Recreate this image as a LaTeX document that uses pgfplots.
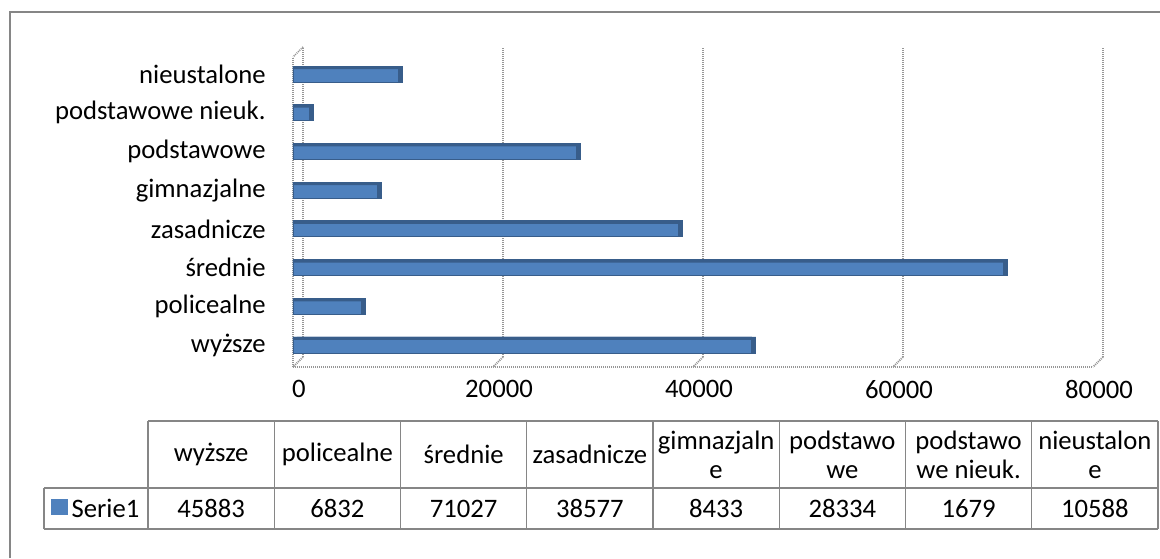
\documentclass[border=0pt]{standalone}
\usepackage{fontspec}
\setmainfont{Carlito}
\usepackage{pgfplots}
\pgfplotsset{compat=1.18}
\usepackage{pgfplotstable}
\definecolor{barblue}{RGB}{79,129,189}
\definecolor{bardark}{RGB}{56,93,138}
\definecolor{gridgray}{RGB}{150,150,150}
\definecolor{framegray}{RGB}{134,134,134}

\pgfplotstableread{
pos value
1 45883
2 6832
3 71027
4 38577
5 8433
6 28334
7 1679
8 10588
}\data

\newcommand{\lblfont}{\fontsize{20}{22}\selectfont}

\begin{document}
\begin{tikzpicture}[font=\lblfont]
\useasboundingbox (0,0) rectangle (870pt,418.5pt);
\draw[framegray, line width=1.1pt] (7.5pt,0pt) -- (7.5pt,409.5pt) -- (870pt,409.5pt);

% back wall with grid
\begin{axis}[
  at={(227.25pt,150.75pt)}, anchor=south west,
  scale only axis, width=600pt, height=232.5pt,
  xmin=0, xmax=80000, ymin=0, ymax=1,
  clip=false,
  axis line style={draw=none},
  major tick length=0pt,
  xtick={0,20000,40000,60000,80000},
  ytick=\empty,
  xmajorgrids,
  major grid style={gridgray, line width=1.5pt, dash pattern=on 0.75pt off 0.75pt},
  scaled x ticks=false,
  /pgf/number format/.cd, 1000 sep={}, assume math mode=true,
  /pgfplots/.cd,
  xticklabel style={font=\lblfont, xshift=-3pt, yshift=-14pt},
]
\pgfplotsinvokeforeach{0,20000,40000,60000,80000}{
  \draw[gridgray, line width=1.5pt, dash pattern=on 0.75pt off 0.75pt] (axis cs:#1,0) -- ++(-7.5pt,-7.5pt);
}
\draw[gridgray, line width=1.2pt, dash pattern=on 0.75pt off 0.75pt] (axis cs:0,1) -- ++(-7.5pt,-7.5pt);
\end{axis}

% front: bars
\begin{axis}[
  at={(219.75pt,143.25pt)}, anchor=south west,
  scale only axis, width=600pt, height=232.5pt,
  xmin=0, xmax=80000, ymin=0.4315, ymax=8.44,
  clip=false,
  axis x line*=bottom, axis y line*=left,
  axis line style={gridgray, line width=1.2pt, dash pattern=on 0.75pt off 0.75pt},
  xtick=\empty,
  ytick={1,...,8},
  yticklabels={wyższe, policealne, średnie, zasadnicze, gimnazjalne, podstawowe, podstawowe nieuk., nieustalone},
  major tick length=0pt,
  yticklabel style={font=\lblfont, xshift=-17pt},
]
% side (end) face of the 3D bars
\addplot[xbar, bar width=12pt, fill=bardark, draw=bardark, line width=0.6pt, xshift=3pt] table[x=value, y=pos]{\data};
\addplot[xbar, bar width=12pt, fill=barblue, draw=bardark, line width=0.6pt] table[x=value, y=pos]{\data};
\addplot[xbar, bar width=2.25pt, bar shift=4.875pt, fill=bardark, draw=none] table[x=value, y=pos]{\data};
\end{axis}

% data table
\draw[framegray, line width=1.1pt] (111pt,102.75pt) -- (868.5pt,102.75pt);
\draw[framegray, line width=1.1pt] (33pt,52.5pt) -- (868.5pt,52.5pt);
\draw[framegray, line width=1.1pt] (33pt,21.75pt) -- (868.5pt,21.75pt);
\draw[framegray, line width=1.1pt] (33pt,21.75pt) -- (33pt,52.5pt);
\foreach \k in {0,...,8} {
  \draw[framegray, line width=1.1pt] ({111pt+\k*94.6875pt},21.75pt) -- ({111pt+\k*94.6875pt},102.75pt);
}
\foreach \i/\lab in {0/{wyższe},1/{policealne},2/{średnie},3/{zasadnicze},4/{gimnazjaln\\e},5/{podstawo\\we},6/{podstawo\\we nieuk.},7/{nieustalon\\e}} {
  \node[align=center, inner sep=0pt] at ({111pt+(\i+0.5)*94.6875pt},77.6pt) {\lab};
}
\foreach \i in {0,...,7} {
  \pgfplotstablegetelem{\i}{value}\of\data
  \node[inner sep=0pt] at ({111pt+(\i+0.5)*94.6875pt},37.1pt) {\pgfplotsretval};
}
\fill[barblue] (38.25pt,32.25pt) rectangle (51pt,44.25pt);
\node[anchor=west, inner sep=0pt] at (53.5pt,37.1pt) {Serie1};
\end{tikzpicture}
\end{document}
